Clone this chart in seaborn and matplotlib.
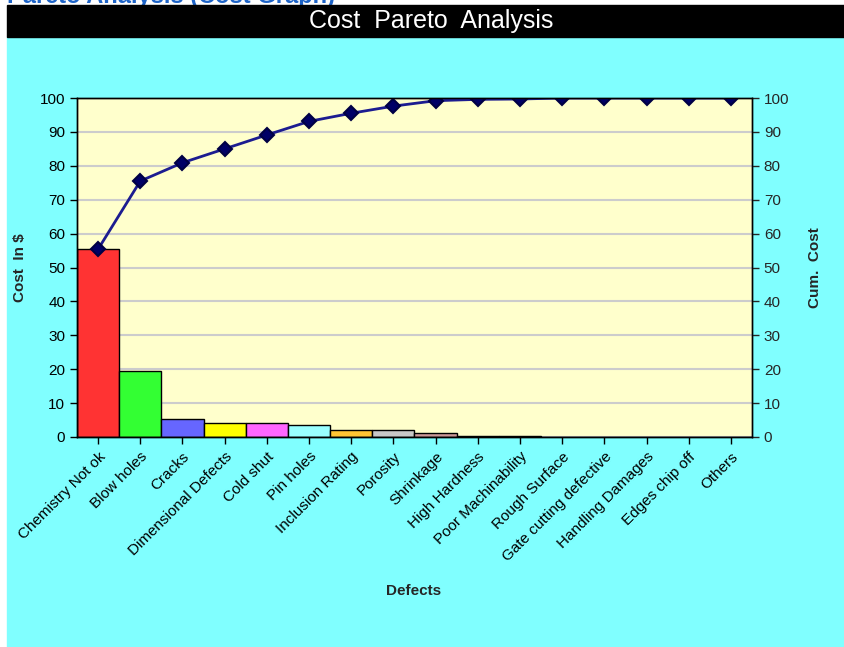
import numpy as np
import pandas as pd
import matplotlib
matplotlib.use("Agg")
import matplotlib.pyplot as plt
import seaborn as sns
from matplotlib.patches import Rectangle

# Datos
defects = ["Chemistry Not ok", "Blow holes", "Cracks", "Dimensional Defects",
           "Cold shut", "Pin holes", "Inclusion Rating", "Porosity", "Shrinkage",
           "High Hardness", "Poor Machinability", "Rough Surface",
           "Gate cutting defective", "Handling Damages", "Edges chip off", "Others"]
cost = [55.4, 19.5, 5.4, 4.0, 4.0, 3.5, 2.2, 2.2, 1.3, 0.3, 0.3, 0, 0, 0, 0, 0]
cum_cost = [55.4, 75.5, 80.9, 85.0, 89.1, 93.1, 95.5, 97.6, 99.2, 99.6, 99.7,
            100, 100, 100, 100, 100]
bar_colors = ["#FF3333", "#33FF33", "#6666FF", "#FFFF00", "#FF66FF", "#99FFFF",
              "#FFC533", "#C8C8C8", "#CC9999", "#333333", "#333333", "#FFFFFF",
              "#FFFFFF", "#FFFFFF", "#FFFFFF", "#FFFFFF"]

df = pd.DataFrame({"Defect": defects, "Cost": cost, "Cum": cum_cost})

sns.set_style("ticks")
plt.rcParams["font.family"] = ["Liberation Sans", "DejaVu Sans"]

fig = plt.figure(figsize=(8.45, 6.47), dpi=100, facecolor="white")

# fondo cian y barra de titulo
fig.patches.append(Rectangle((7 / 845, 0), 1, 1 - 37 / 647, transform=fig.transFigure,
                             color="#80FFFF", zorder=-5))
fig.text(7 / 845, 1 - 3.5 / 647, "Pareto Analysis (Cost Graph)", color="#1E64C8",
         fontsize=17, fontweight="bold", va="baseline", ha="left", zorder=1)
fig.patches.append(Rectangle((7 / 845, 1 - 37 / 647), 1, 32 / 647,
                             transform=fig.transFigure, color="black", zorder=2))
fig.text(431 / 845, 1 - 21 / 647, "Cost  Pareto  Analysis", color="white",
         fontsize=18, ha="center", va="center", zorder=3)

ax = fig.add_axes([77 / 845, 1 - 437 / 647, 675 / 845, 339 / 647])
ax.set_facecolor("#FFFFCC")
sns.barplot(data=df, x="Defect", y="Cost", hue="Defect", palette=bar_colors,
            saturation=1, width=1.0, edgecolor="black", linewidth=1, legend=False,
            ax=ax, zorder=2)
ax.set_ylim(0, 100)
ax.set_xlim(-0.5, len(defects) - 0.5)
ax.set_yticks(np.arange(0, 101, 10))
ax.yaxis.grid(True, color="#CCCCCC", linewidth=1.5, zorder=0)
ax.set_axisbelow(True)
ax.set_xticks(range(len(defects)))
ax.set_xticklabels(defects, rotation=45, ha="right", rotation_mode="anchor")
ax.tick_params(axis="both", direction="out", length=5, width=1, colors="black",
               labelsize=11)
ax.tick_params(axis="x", labelsize=11, pad=4)
ax.set_ylabel("Cost  In $", fontsize=11, fontweight="bold")
ax.yaxis.set_label_coords(-50 / 675, 0.5)
ax.set_xlabel("")
for s in ax.spines.values():
    s.set_color("black")
    s.set_linewidth(1)

ax2 = ax.twinx()
sns.pointplot(data=df, x="Defect", y="Cum", color="#000066", markers="D",
              linestyles="-", markersize=7, linewidth=2, ax=ax2)
ax2.lines[0].set_color("#1C1C90")
ax2.lines[0].set_markerfacecolor("#000066")
ax2.lines[0].set_markeredgecolor("#000044")
ax2.set_ylim(0, 100)
ax2.set_xlim(-0.5, len(defects) - 0.5)
ax2.set_yticks(np.arange(0, 101, 10))
ax2.tick_params(axis="y", direction="out", length=5, width=1, labelsize=11)
ax2.set_ylabel("Cum.  Cost", fontsize=11, fontweight="bold")
ax2.yaxis.set_label_coords(1 + 56 / 675, 0.5)
ax2.set_xlabel("")
for s in ax2.spines.values():
    s.set_color("black")
    s.set_linewidth(1)

fig.text(414 / 845, 1 - 591 / 647, "Defects", fontsize=11, fontweight="bold",
         ha="center", va="center")

plt.savefig("out.png", dpi=100, facecolor=fig.get_facecolor())
